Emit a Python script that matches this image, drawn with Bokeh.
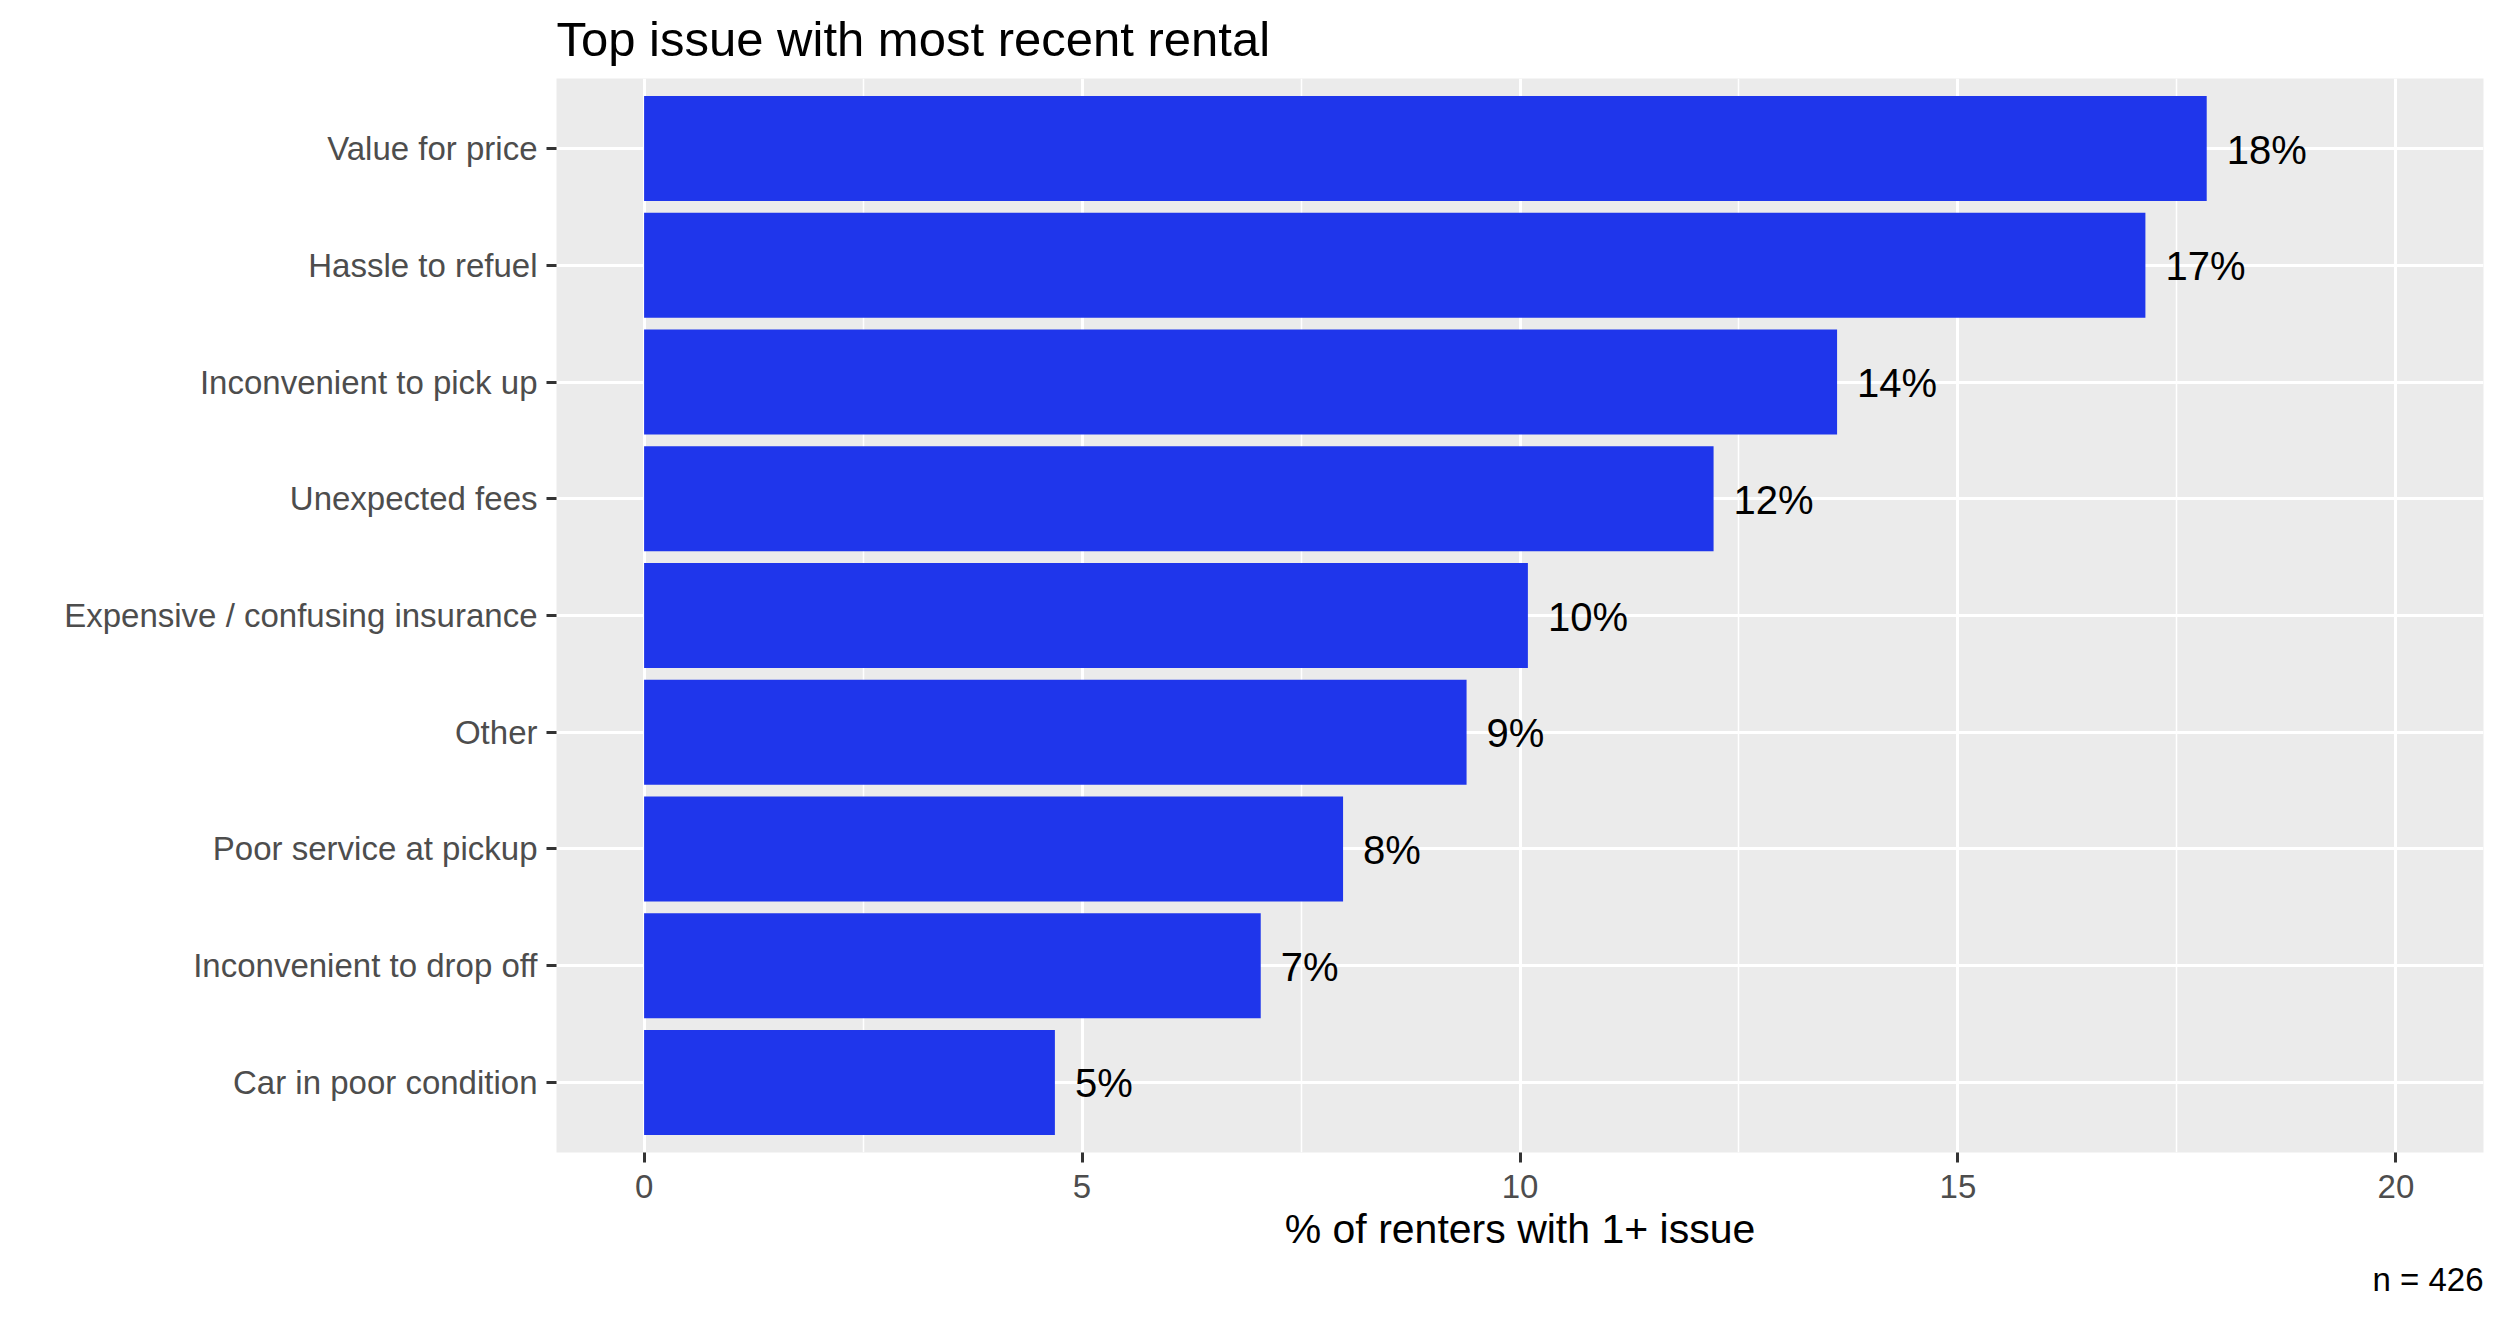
from bokeh.plotting import figure
from bokeh.models import Range1d, FixedTicker, Title, ColumnDataSource
from bokeh.embed import file_html
from bokeh.resources import INLINE

# ---- data (bottom to top) ----
categories = [
    "Car in poor condition",
    "Inconvenient to drop off",
    "Poor service at pickup",
    "Other",
    "Expensive / confusing insurance",
    "Unexpected fees",
    "Inconvenient to pick up",
    "Hassle to refuel",
    "Value for price",
]
values = [4.69, 7.04, 7.98, 9.39, 10.09, 12.21, 13.62, 17.14, 17.84]
bar_labels = ["5%", "7%", "8%", "9%", "10%", "12%", "14%", "17%", "18%"]
x_ticks = [0, 5, 10, 15, 20]
x_minor = [2.5, 7.5, 12.5, 17.5]
title_text = "Top issue with most recent rental"
x_title = "% of renters with 1+ issue"
caption = "n = 426"

FONT = "Liberation Sans"
ypos = list(range(1, len(categories) + 1))

src = ColumnDataSource(dict(y=ypos, v=values, lab=bar_labels, cat=categories))

p = figure(
    frame_width=1927, frame_height=1074,
    x_range=Range1d(-1, 21), y_range=Range1d(0.4, len(categories) + 0.6),
    output_backend="svg", toolbar_location=None,
    min_border_left=556, min_border_top=76, min_border_right=10, min_border_bottom=140,
    title=title_text,
)
p.title.align = "left"
p.title.vertical_align = "top"
p.title.text_font = FONT
p.title.text_font_size = "49px"
p.title.text_font_style = "normal"
p.title.text_color = "black"
p.title.standoff = 22
p.title.offset = 0

p.background_fill_color = "#EBEBEB"
p.border_fill_color = "white"
p.outline_line_color = None

p.hbar(y="y", left=0, right="v", height=0.9, source=src,
       fill_color="#1F36EB", line_color=None)

p.text(x="v", y="y", text="lab", source=src, x_offset=20, y_offset=1,
       text_font={"value": FONT}, text_font_size="40px", text_color="black",
       text_align="left", text_baseline="middle")

# x axis
xa = p.xaxis[0]
xa.ticker = FixedTicker(ticks=x_ticks, minor_ticks=x_minor)
xa.axis_line_color = None
xa.major_tick_line_color = "#333333"
xa.major_tick_line_width = 3
xa.major_tick_out = 10
xa.major_tick_in = 0
xa.minor_tick_line_color = None
xa.major_label_text_font = FONT
xa.major_label_text_font_size = "33px"
xa.major_label_text_color = "#4D4D4D"
xa.major_label_standoff = 12
xa.axis_label = x_title
xa.axis_label_text_font = FONT
xa.axis_label_text_font_size = "41px"
xa.axis_label_text_font_style = "normal"
xa.axis_label_text_color = "black"
xa.axis_label_standoff = 5

# y axis
ya = p.yaxis[0]
ya.ticker = FixedTicker(ticks=ypos)
ya.major_label_overrides = {i: c for i, c in zip(ypos, categories)}
ya.axis_line_color = None
ya.major_tick_line_color = "#333333"
ya.major_tick_line_width = 3
ya.major_tick_out = 10
ya.major_tick_in = 0
ya.minor_tick_line_color = None
ya.major_label_text_font = FONT
ya.major_label_text_font_size = "33px"
ya.major_label_text_color = "#4D4D4D"
ya.major_label_standoff = 9

# grids
p.xgrid.grid_line_color = "white"
p.xgrid.grid_line_width = 3
p.xgrid.minor_grid_line_color = "white"
p.xgrid.minor_grid_line_width = 1.5
p.ygrid.ticker = FixedTicker(ticks=ypos)
p.ygrid.grid_line_color = "white"
p.ygrid.grid_line_width = 3
p.xgrid.level = "underlay"
p.ygrid.level = "underlay"

# caption
p.add_layout(Title(text=caption, align="right", text_font=FONT,
                   text_font_size="33px", text_font_style="normal",
                   text_color="black", standoff=9, offset=0), "below")

open("out.html", "w").write(file_html(p, INLINE))
